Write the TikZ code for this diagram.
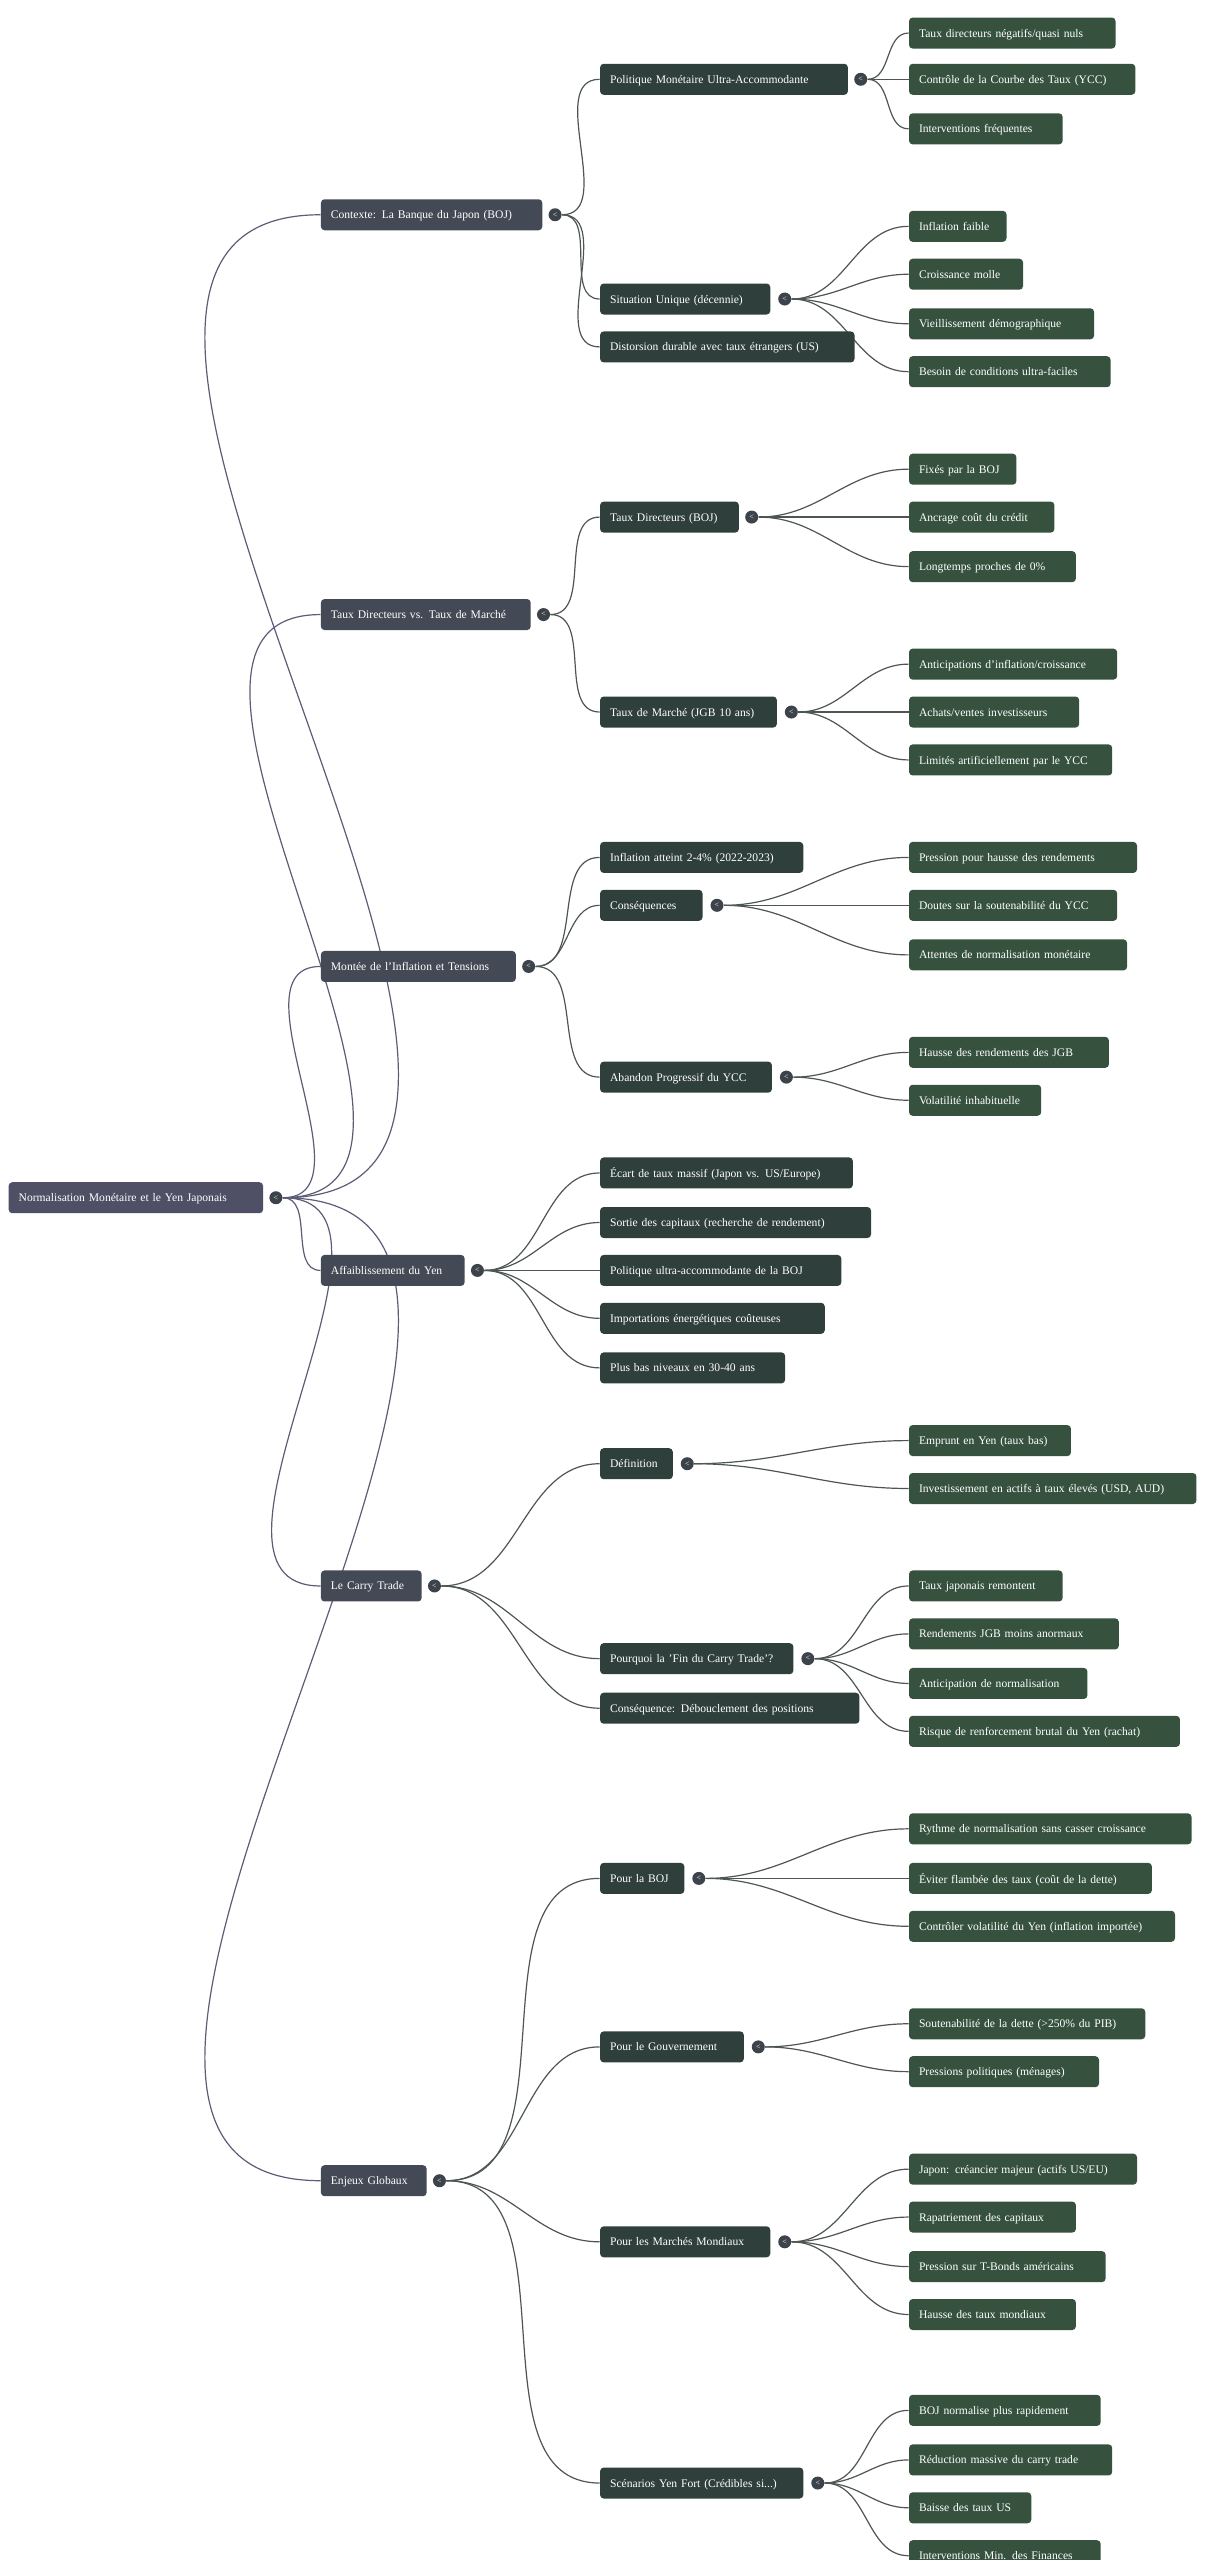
\documentclass[tikz,border=0pt]{standalone}
\usepackage{fontspec}
\setmainfont{Liberation Serif}
\usetikzlibrary{backgrounds}
\definecolor{cR}{HTML}{4F5066}
\definecolor{cA}{HTML}{434A56}
\definecolor{cB}{HTML}{2F3F3B}
\definecolor{cC}{HTML}{36523F}
\definecolor{cK}{HTML}{3C434B}
\definecolor{eR}{HTML}{5C5C76}
\definecolor{eG}{HTML}{4E5654}
\tikzset{
 box/.style={anchor=west,rounded corners=1.8pt,text=white,font=\fontsize{5.8}{7}\selectfont,minimum height=15.5pt,inner xsep=5pt,align=left,text depth=0pt},
 R/.style={box,fill=cR},A/.style={box,fill=cA},B/.style={box,fill=cB},C/.style={box,fill=cC},
 circ/.style={circle,fill=cK,inner sep=0pt,minimum size=6.5pt,text=white,font=\fontsize{4}{4}\selectfont},
 e/.style={draw=eG,line width=0.6pt},
 er/.style={draw=eR,line width=0.6pt}
}
\newcommand{\bx}[6]{\pgfmathsetlengthmacro\bw{(#5-#3)*0.826pt}\node[#1,minimum width=\bw,text width=\bw-10pt] (#2) at (#3,#4) {#6};}
\newcommand{\cc}[3]{\node[circ] (#1) at (#2,#3) {<};}
\newcommand{\ed}[3]{\draw[#1] (#2) to[out=0,in=180] (#3.west);}
\begin{document}
\begin{tikzpicture}[x=0.826pt,y=-0.826pt]
\useasboundingbox (0,0) rectangle (733,1549.6);
\bx{R}{r}{5}{725}{159}{Normalisation Monétaire et le Yen Japonais}\cc{rc}{167}{725}
% level 1
\bx{A}{a1}{194}{130}{328}{Contexte: La Banque du Japon (BOJ)}\cc{a1c}{336}{130}
\bx{A}{a2}{194}{372}{321}{Taux Directeurs vs. Taux de Marché}\cc{a2c}{329}{372}
\bx{A}{a3}{194}{585}{312}{Montée de l'Inflation et Tensions}\cc{a3c}{320}{585}
\bx{A}{a4}{194}{769}{281}{Affaiblissement du Yen}\cc{a4c}{289}{769}
\bx{A}{a5}{194}{960}{255}{Le Carry Trade}\cc{a5c}{263}{960}
\bx{A}{a6}{194}{1320}{258}{Enjeux Globaux}\cc{a6c}{266}{1320}
% level 2
\bx{B}{b1}{363}{48}{513}{Politique Monétaire Ultra-Accommodante}\cc{b1c}{521}{48}
\bx{B}{b2}{363}{181}{466}{Situation Unique (décennie)}\cc{b2c}{475}{181}
\bx{B}{b3}{363}{210}{517}{Distorsion durable avec taux étrangers (US)}
\bx{B}{b4}{363}{313}{447}{Taux Directeurs (BOJ)}\cc{b4c}{455}{313}
\bx{B}{b5}{363}{431}{470}{Taux de Marché (JGB 10 ans)}\cc{b5c}{479}{431}
\bx{B}{b6}{363}{519}{486}{Inflation atteint 2-4\% (2022-2023)}
\bx{B}{b7}{363}{548}{425}{Conséquences}\cc{b7c}{434}{548}
\bx{B}{b8}{363}{652}{467}{Abandon Progressif du YCC}\cc{b8c}{476}{652}
\bx{B}{b9}{363}{710}{516}{Écart de taux massif (Japon vs. US/Europe)}
\bx{B}{b10}{363}{740}{527}{Sortie des capitaux (recherche de rendement)}
\bx{B}{b11}{363}{769}{509}{Politique ultra-accommodante de la BOJ}
\bx{B}{b12}{363}{798}{499}{Importations énergétiques coûteuses}
\bx{B}{b13}{363}{828}{475}{Plus bas niveaux en 30-40 ans}
\bx{B}{b14}{363}{886}{407}{Définition}\cc{b14c}{416}{886}
\bx{B}{b15}{363}{1004}{480}{Pourquoi la 'Fin du Carry Trade'?}\cc{b15c}{489}{1004}
\bx{B}{b16}{363}{1034}{520}{Conséquence: Débouclement des positions}
\bx{B}{b17}{363}{1137}{414}{Pour la BOJ}\cc{b17c}{423}{1137}
\bx{B}{b18}{363}{1239}{450}{Pour le Gouvernement}\cc{b18c}{459}{1239}
\bx{B}{b19}{363}{1357}{466}{Pour les Marchés Mondiaux}\cc{b19c}{475}{1357}
\bx{B}{b20}{363}{1503}{486}{Scénarios Yen Fort (Crédibles si...)}\cc{b20c}{495}{1503}
% level 3
\bx{C}{c1}{550}{20}{675}{Taux directeurs négatifs/quasi nuls}
\bx{C}{c2}{550}{48}{687}{Contrôle de la Courbe des Taux (YCC)}
\bx{C}{c3}{550}{78}{643}{Interventions fréquentes}
\bx{C}{c4}{550}{137}{609}{Inflation faible}
\bx{C}{c5}{550}{166}{619}{Croissance molle}
\bx{C}{c6}{550}{196}{662}{Vieillissement démographique}
\bx{C}{c7}{550}{225}{672}{Besoin de conditions ultra-faciles}
\bx{C}{c8}{550}{284}{615}{Fixés par la BOJ}
\bx{C}{c9}{550}{313}{638}{Ancrage coût du crédit}
\bx{C}{c10}{550}{343}{651}{Longtemps proches de 0\%}
\bx{C}{c11}{550}{402}{676}{Anticipations d'inflation/croissance}
\bx{C}{c12}{550}{431}{653}{Achats/ventes investisseurs}
\bx{C}{c13}{550}{460}{673}{Limités artificiellement par le YCC}
\bx{C}{c14}{550}{519}{688}{Pression pour hausse des rendements}
\bx{C}{c15}{550}{548}{676}{Doutes sur la soutenabilité du YCC}
\bx{C}{c16}{550}{578}{682}{Attentes de normalisation monétaire}
\bx{C}{c17}{550}{637}{671}{Hausse des rendements des JGB}
\bx{C}{c18}{550}{666}{630}{Volatilité inhabituelle}
\bx{C}{c19}{550}{872}{648}{Emprunt en Yen (taux bas)}
\bx{C}{c20}{550}{901}{724}{Investissement en actifs à taux élevés (USD, AUD)}
\bx{C}{c21}{550}{960}{643}{Taux japonais remontent}
\bx{C}{c22}{550}{989}{677}{Rendements JGB moins anormaux}
\bx{C}{c23}{550}{1019}{658}{Anticipation de normalisation}
\bx{C}{c24}{550}{1048}{714}{Risque de renforcement brutal du Yen (rachat)}
\bx{C}{c25}{550}{1107}{721}{Rythme de normalisation sans casser croissance}
\bx{C}{c26}{550}{1137}{697}{Éviter flambée des taux (coût de la dette)}
\bx{C}{c27}{550}{1166}{711}{Contrôler volatilité du Yen (inflation importée)}
\bx{C}{c28}{550}{1225}{693}{Soutenabilité de la dette (>250\% du PIB)}
\bx{C}{c29}{550}{1254}{665}{Pressions politiques (ménages)}
\bx{C}{c30}{550}{1313}{688}{Japon: créancier majeur (actifs US/EU)}
\bx{C}{c31}{550}{1342}{651}{Rapatriement des capitaux}
\bx{C}{c32}{550}{1372}{669}{Pression sur T-Bonds américains}
\bx{C}{c33}{550}{1401}{651}{Hausse des taux mondiaux}
\bx{C}{c34}{550}{1459}{666}{BOJ normalise plus rapidement}
\bx{C}{c35}{550}{1489}{673}{Réduction massive du carry trade}
\bx{C}{c36}{550}{1518}{624}{Baisse des taux US}
\bx{C}{c37}{550}{1547}{666}{Interventions Min. des Finances}
\begin{scope}[on background layer]
\foreach \t in {a1,a2,a3,a4,a5,a6}{\ed{er}{rc}{\t}}
\foreach \t in {b1,b2,b3}{\ed{e}{a1c}{\t}}
\foreach \t in {b4,b5}{\ed{e}{a2c}{\t}}
\foreach \t in {b6,b7,b8}{\ed{e}{a3c}{\t}}
\foreach \t in {b9,b10,b11,b12,b13}{\ed{e}{a4c}{\t}}
\foreach \t in {b14,b15,b16}{\ed{e}{a5c}{\t}}
\foreach \t in {b17,b18,b19,b20}{\ed{e}{a6c}{\t}}
\foreach \t in {c1,c2,c3}{\ed{e}{b1c}{\t}}
\foreach \t in {c4,c5,c6,c7}{\ed{e}{b2c}{\t}}
\foreach \t in {c8,c9,c10}{\ed{e}{b4c}{\t}}
\foreach \t in {c11,c12,c13}{\ed{e}{b5c}{\t}}
\foreach \t in {c14,c15,c16}{\ed{e}{b7c}{\t}}
\foreach \t in {c17,c18}{\ed{e}{b8c}{\t}}
\foreach \t in {c19,c20}{\ed{e}{b14c}{\t}}
\foreach \t in {c21,c22,c23,c24}{\ed{e}{b15c}{\t}}
\foreach \t in {c25,c26,c27}{\ed{e}{b17c}{\t}}
\foreach \t in {c28,c29}{\ed{e}{b18c}{\t}}
\foreach \t in {c30,c31,c32,c33}{\ed{e}{b19c}{\t}}
\foreach \t in {c34,c35,c36,c37}{\ed{e}{b20c}{\t}}
\end{scope}
\end{tikzpicture}
\end{document}
